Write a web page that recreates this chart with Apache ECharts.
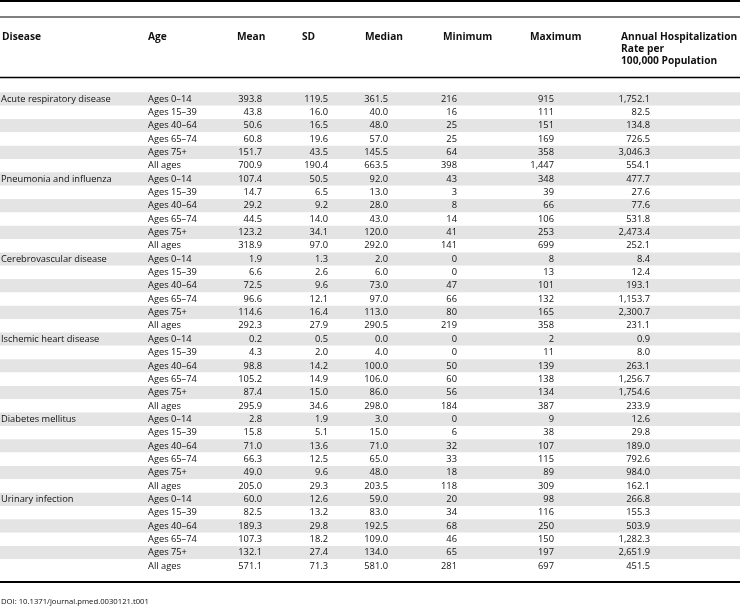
<!DOCTYPE html>
<html>
<head>
<meta charset="utf-8">
<script src="https://cdn.jsdelivr.net/npm/echarts@6/dist/echarts.min.js"></script>
<style>
html,body{margin:0;padding:0;background:#fff;}
#c{width:740px;height:607px;}
</style>
</head>
<body>
<div id="c"></div>
<script>
// ---- DATA ----
var diseases = ['Acute respiratory disease', 'Pneumonia and influenza', 'Cerebrovascular disease',
  'Ischemic heart disease', 'Diabetes mellitus', 'Urinary infection'];
var ageGroups = ['Ages 0\u201314', 'Ages 15\u201339', 'Ages 40\u201364', 'Ages 65\u201374', 'Ages 75+', 'All ages'];
var headers = ['Disease', 'Age', 'Mean', 'SD', 'Median', 'Minimum', 'Maximum',
  'Annual Hospitalization\nRate per\n100,000 Population'];
var meanVals = [393.8, 43.8, 50.6, 60.8, 151.7, 700.9,
  107.4, 14.7, 29.2, 44.5, 123.2, 318.9,
  1.9, 6.6, 72.5, 96.6, 114.6, 292.3,
  0.2, 4.3, 98.8, 105.2, 87.4, 295.9,
  2.8, 15.8, 71.0, 66.3, 49.0, 205.0,
  60.0, 82.5, 189.3, 107.3, 132.1, 571.1];
var sdVals = [119.5, 16.0, 16.5, 19.6, 43.5, 190.4,
  50.5, 6.5, 9.2, 14.0, 34.1, 97.0,
  1.3, 2.6, 9.6, 12.1, 16.4, 27.9,
  0.5, 2.0, 14.2, 14.9, 15.0, 34.6,
  1.9, 5.1, 13.6, 12.5, 9.6, 29.3,
  12.6, 13.2, 29.8, 18.2, 27.4, 71.3];
var medianVals = [361.5, 40.0, 48.0, 57.0, 145.5, 663.5,
  92.0, 13.0, 28.0, 43.0, 120.0, 292.0,
  2.0, 6.0, 73.0, 97.0, 113.0, 290.5,
  0.0, 4.0, 100.0, 106.0, 86.0, 298.0,
  3.0, 15.0, 71.0, 65.0, 48.0, 203.5,
  59.0, 83.0, 192.5, 109.0, 134.0, 581.0];
var minVals = [216, 16, 25, 25, 64, 398,
  43, 3, 8, 14, 41, 141,
  0, 0, 47, 66, 80, 219,
  0, 0, 50, 60, 56, 184,
  0, 6, 32, 33, 18, 118,
  20, 34, 68, 46, 65, 281];
var maxVals = [915, 111, 151, 169, 358, 1447,
  348, 39, 66, 106, 253, 699,
  8, 13, 101, 132, 165, 358,
  2, 11, 139, 138, 134, 387,
  9, 38, 107, 115, 89, 309,
  98, 116, 250, 150, 197, 697];
var rateVals = [1752.1, 82.5, 134.8, 726.5, 3046.3, 554.1,
  477.7, 27.6, 77.6, 531.8, 2473.4, 252.1,
  8.4, 12.4, 193.1, 1153.7, 2300.7, 231.1,
  0.9, 8.0, 263.1, 1256.7, 1754.6, 233.9,
  12.6, 29.8, 189.0, 792.6, 984.0, 162.1,
  266.8, 155.3, 503.9, 1282.3, 2651.9, 451.5];
var sourceNote = 'DOI: 10.1371/journal.pmed.0030121.t001';

// ---- LAYOUT (not data) ----
var FONT = '"Open Sans", "Noto Sans", sans-serif';
var BODY_SIZE = 9.3;
var HEAD_SIZE = 10.2;
var TXT = '#111';
// column anchors on x axis (0..740) : [x, align]
var colAnchors = [[1, 'left'], [148, 'left'], [262, 'right'], [328, 'right'], [388, 'right'],
  [457, 'right'], [554, 'right'], [650, 'right']];
var headAnchors = [2, 148, 237, 302, 365, 443, 530, 621];

function withCommas(s) {
  var parts = s.split('.');
  parts[0] = parts[0].replace(/\B(?=(\d{3})+(?!\d))/g, ',');
  return parts.join('.');
}
function f1(v) { return withCommas(v.toFixed(1)); }
function f0(v) { return withCommas(String(v)); }

var nRows = diseases.length * ageGroups.length;
var rowCats = [];
var rows = [];
for (var i = 0; i < nRows; i++) {
  rowCats.push(String(i));
  var d = Math.floor(i / ageGroups.length), a = i % ageGroups.length;
  rows.push([i, a === 0 ? diseases[d] : '', ageGroups[a], f1(meanVals[i]), f1(sdVals[i]),
    f1(medianVals[i]), f0(minVals[i]), f0(maxVals[i]), f1(rateVals[i])]);
}

var chart = echarts.init(document.getElementById('c'), null, {renderer: 'canvas'});

var graphics = [
  {type: 'line', shape: {x1: 0, y1: 1, x2: 740, y2: 1}, style: {stroke: '#000', lineWidth: 2}},
  {type: 'line', shape: {x1: 0, y1: 17, x2: 740, y2: 17}, style: {stroke: '#000', lineWidth: 1}},
  {type: 'line', shape: {x1: 0, y1: 77.5, x2: 740, y2: 77.5}, style: {stroke: '#000', lineWidth: 1.5}},
  {type: 'line', shape: {x1: 0, y1: 582, x2: 740, y2: 582}, style: {stroke: '#000', lineWidth: 1.8}},
  {type: 'text', x: 1, y: 602, style: {text: sourceNote, font: '7.7px ' + FONT, fill: TXT, verticalAlign: 'middle'}}
];
headers.forEach(function (h, k) {
  graphics.push({type: 'text', x: headAnchors[k], y: 31, style: {
    text: h, font: 'bold ' + HEAD_SIZE + 'px ' + FONT, fill: TXT, lineHeight: 12, verticalAlign: 'top'}});
});

chart.setOption({
  animation: false,
  backgroundColor: '#fff',
  grid: {left: 0, right: 0, top: 92.3, bottom: 34.3, containLabel: false},
  xAxis: {type: 'value', min: 0, max: 740, show: false},
  yAxis: {type: 'category', data: rowCats, inverse: true, boundaryGap: true,
    axisLine: {show: false}, axisTick: {show: false, interval: 0}, axisLabel: {show: false, interval: 0},
    splitLine: {show: false, interval: 0},
    splitArea: {show: true, interval: 0, areaStyle: {color: ['#e4e4e4', '#ffffff']}}},
  graphic: graphics,
  series: [{
    type: 'custom',
    coordinateSystem: 'cartesian2d',
    encode: {x: -1, y: 0},
    data: rows,
    renderItem: function (params, api) {
      var r = api.value(0);
      var children = [];
      for (var k = 0; k < colAnchors.length; k++) {
        var txt = rows[r][k + 1];
        if (!txt) continue;
        var p = api.coord([colAnchors[k][0], r]);
        children.push({type: 'text', x: p[0], y: p[1], style: {
          text: txt, font: BODY_SIZE + 'px ' + FONT, fill: TXT,
          align: colAnchors[k][1], verticalAlign: 'middle'}});
      }
      return {type: 'group', children: children};
    }
  }]
});
</script>
</body>
</html>
